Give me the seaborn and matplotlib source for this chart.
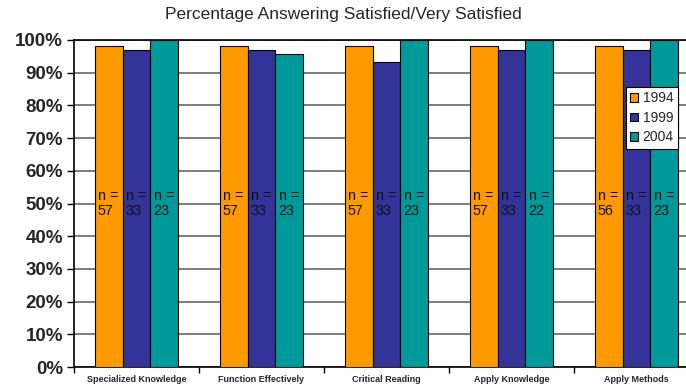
import matplotlib
matplotlib.use("Agg")
import matplotlib.pyplot as plt
import seaborn as sns
import pandas as pd
from matplotlib.ticker import FixedLocator, PercentFormatter

# Survey results by learning outcome and survey year
categories = ["Specialized Knowledge", "Function Effectively", "Critical Reading",
              "Apply Knowledge", "Apply Methods"]
years = ["1994", "1999", "2004"]
pct_1994 = [98.3, 98.2, 98.2, 98.2, 98.2]
pct_1999 = [97.0, 97.0, 93.3, 97.0, 97.0]
pct_2004 = [100.0, 95.7, 100.0, 100.0, 100.0]
n_1994 = [57, 57, 57, 57, 56]
n_1999 = [33, 33, 33, 33, 33]
n_2004 = [23, 23, 23, 22, 23]

colors = ["#FF9900", "#333399", "#009999"]

rows = []
for yr, vals, ns in zip(years, [pct_1994, pct_1999, pct_2004], [n_1994, n_1999, n_2004]):
    for cat, v, n in zip(categories, vals, ns):
        rows.append({"Outcome": cat, "Year": yr, "Pct": v, "n": n})
df = pd.DataFrame(rows)

sns.set_theme(style="white")
plt.rcParams["font.family"] = ["Liberation Sans", "DejaVu Sans"]

fig = plt.figure(figsize=(6.86, 3.85), dpi=100)
ax = fig.add_axes([74 / 686, 18 / 385, 625 / 686, 327 / 385])

sns.barplot(data=df, x="Outcome", y="Pct", hue="Year", order=categories,
            hue_order=years, palette=colors, width=0.67, gap=0,
            edgecolor="black", linewidth=0.8, saturation=1, ax=ax, zorder=3)

# n-size annotations inside each bar
for cont, ns in zip(ax.containers, [n_1994, n_1999, n_2004]):
    for patch, n in zip(cont.patches, ns):
        ax.annotate(f"n =\n{n}", xy=(patch.get_x(), 50), xytext=(2.2, 0),
                    textcoords="offset points", ha="left", va="center",
                    fontsize=10.3, linespacing=1.1, color="#111111", zorder=4)

ax.set_ylim(0, 100)
ax.set_xlim(-0.5, len(categories) - 0.5)
ax.yaxis.set_major_locator(FixedLocator(range(0, 101, 10)))
ax.yaxis.set_major_formatter(PercentFormatter(decimals=0))
ax.grid(axis="y", color="#5a5a5a", linewidth=1.1, zorder=0)
ax.grid(axis="x", visible=False)

ax.set_xlabel("")
ax.set_ylabel("")
for lab in ax.get_yticklabels():
    lab.set_fontweight("bold")
    lab.set_fontsize(13.5)
for lab in ax.get_xticklabels():
    lab.set_fontweight("bold")
    lab.set_fontsize(6.5)

ax.tick_params(axis="y", which="major", direction="out", length=5, width=1,
               color="black", pad=3, left=True)
ax.tick_params(axis="x", which="major", length=0, pad=5.5)
ax.xaxis.set_minor_locator(FixedLocator([i - 0.5 for i in range(len(categories) + 1)]))
ax.tick_params(axis="x", which="minor", direction="out", length=4, width=1,
               color="black", bottom=True)

for side in ["left", "bottom", "top"]:
    ax.spines[side].set_visible(True)
    ax.spines[side].set_color("black")
    ax.spines[side].set_linewidth(1.2)
ax.spines["right"].set_visible(False)

leg = ax.legend(loc="upper left", bbox_to_anchor=(0.883, 0.856), borderaxespad=0,
                fontsize=10, handlelength=0.6, handleheight=0.6, handletextpad=0.3,
                labelspacing=0.4, borderpad=0.3, frameon=True, fancybox=False,
                edgecolor="black", framealpha=1)
leg.get_frame().set_linewidth(0.8)
for h in leg.legend_handles:
    h.set_edgecolor("black")
    h.set_linewidth(0.8)
leg.set_zorder(5)

fig.text(0.5, 1 - 14 / 385, "Percentage Answering Satisfied/Very Satisfied",
         ha="center", va="center", fontsize=12.5)

fig.savefig("out.png", dpi=100)
